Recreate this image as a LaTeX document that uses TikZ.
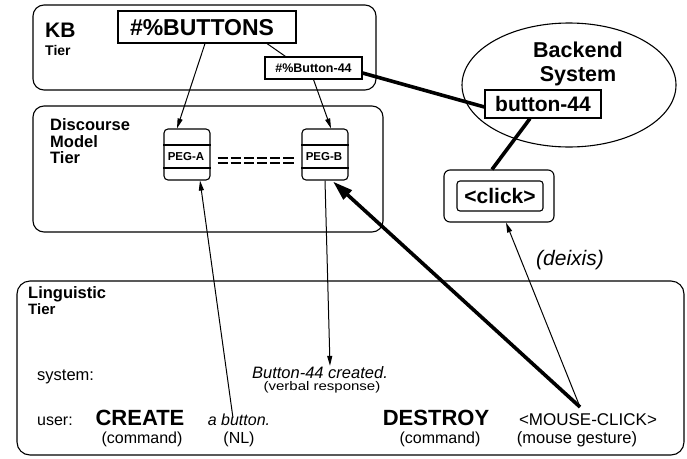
\documentclass[tikz,border=0pt]{standalone}
\usepackage{fontspec}
\setmainfont{Liberation Sans}
\usetikzlibrary{arrows.meta,calc,shapes.geometric}
\newcommand\myfs[1]{\fontsize{#1}{#1}\selectfont}
\begin{document}
\begin{tikzpicture}[x=1pt,y=-1pt,
  tier/.style={draw,line width=1.1pt,rounded corners=11pt,inner sep=0pt},
  box/.style={draw,line width=1.1pt,inner sep=0pt},
  thinarrow/.style={line width=1pt,-{Triangle[length=10pt,width=5pt]}},
  thickline/.style={line width=3.6pt},
  lbl/.style={inner sep=0pt,anchor=base west},
  ctr/.style={inner sep=0pt,anchor=base},
]
\useasboundingbox (0,0) rectangle (687,458);
% KB tier
\node[tier,minimum width=343pt,minimum height=85pt] (kb) at (204.5,47.5) {};
\node[lbl,font=\bfseries\myfs{21}] (kbl) at (45,37) {KB};
\node[lbl,font=\bfseries\myfs{14}] (kbt) at (45,55) {Tier};
\node[box,minimum width=178pt,minimum height=32pt] (buttons) at (207,27) {};
\node[ctr,font=\bfseries\myfs{23}] (buttonst) at (202,35.5) {\#\%BUTTONS};
\node[box,minimum width=97pt,minimum height=22pt,font=\bfseries\myfs{12.5}] (b44) at (313.5,68) {\#\%Button-44};
% Discourse model tier
\node[tier,minimum width=350pt,minimum height=126pt] (dm) at (208,169) {};
\node[lbl,font=\bfseries\myfs{16.5}] (dm1) at (50,130) {Discourse};
\node[lbl,font=\bfseries\myfs{16.5}] (dm2) at (50,147) {Model};
\node[lbl,font=\bfseries\myfs{16.5}] (dm3) at (50,163) {Tier};
\node[box,rounded corners=4pt,minimum width=46pt,minimum height=51pt] (pega) at (187,154.5) {};
\draw[line width=1.1pt] (pega.west |- 0,145) -- (pega.east |- 0,145);
\draw[line width=1.1pt] (pega.west |- 0,168) -- (pega.east |- 0,168);
\node[font=\bfseries\myfs{11.5},inner sep=0pt] (pegat) at (186,156.5) {PEG-A};
\node[box,rounded corners=4pt,minimum width=46pt,minimum height=51pt] (pegb) at (325,154.5) {};
\draw[line width=1.1pt] (pegb.west |- 0,145) -- (pegb.east |- 0,145);
\draw[line width=1.1pt] (pegb.west |- 0,168) -- (pegb.east |- 0,168);
\node[font=\bfseries\myfs{11.5},inner sep=0pt] (pegbt) at (324,156.5) {PEG-B};
\draw[line width=1.6pt,dash pattern=on 10.5pt off 2.6pt] ($(pega.east)+(7,3.5)$) -- ($(pegb.west)+(-7,3.5)$);
\draw[line width=1.6pt,dash pattern=on 10.5pt off 2.6pt] ($(pega.east)+(7,8.5)$) -- ($(pegb.west)+(-7,8.5)$);
% Backend
\node[draw,ellipse,line width=1.1pt,minimum width=214pt,minimum height=124pt,inner sep=0pt] (backend) at (569,85) {};
\node[ctr,font=\bfseries\myfs{21.5}] (be1) at (578,57) {Backend};
\node[ctr,font=\bfseries\myfs{21.5}] (be2) at (578,81) {System};
\node[box,minimum width=116pt,minimum height=28pt,font=\bfseries\myfs{21}] (bb) at (543,104) {button-44};
\node[box,rounded corners=6pt,minimum width=110pt,minimum height=52pt] (click) at (499,196) {};
\node[box,rounded corners=3pt,minimum width=86pt,minimum height=30pt,font=\bfseries\myfs{21}] (clickin) at (500,196) {<click>};
\node[ctr,font=\itshape\myfs{21}] (deixis) at (570,265) {(deixis)};
% Linguistic tier
\node[tier,rounded corners=13pt,minimum width=667pt,minimum height=174pt] (lt) at (350.5,368) {};
\node[lbl,font=\bfseries\myfs{16.5}] (lt1) at (28,298) {Linguistic};
\node[lbl,font=\bfseries\myfs{15}] (lt2) at (28,314) {Tier};
\node[lbl,font=\myfs{16.5}] (sys) at (37,380) {system:};
\node[lbl,font=\myfs{16}] (usr) at (37,425) {user:};
\node[ctr,font=\bfseries\myfs{22}] (create) at (140,425) {CREATE};
\node[ctr,font=\myfs{16}] (cmd1) at (142,443) {(command)};
\node[ctr,font=\itshape\myfs{16}] (abutton) at (239,425) {a button.};
\node[ctr,font=\myfs{16}] (nl) at (239,443) {(NL)};
\node[ctr,font=\itshape\myfs{16.5}] (created) at (320,378) {Button-44 created.};
\node[ctr,font=\myfs{12.5}] (verbal) at (322,390) {\scalebox{1.2}[1]{(verbal response)}};
\node[ctr,font=\bfseries\myfs{22}] (destroy) at (436,425) {DESTROY};
\node[ctr,font=\myfs{16}] (cmd2) at (440,443) {(command)};
\node[ctr,font=\myfs{17}] (mouse) at (588,425) {<MOUSE-CLICK>};
\node[ctr,font=\myfs{16.5}] (gesture) at (577,443) {(mouse gesture)};
\coordinate (mc) at (580,407);
\coordinate (ab) at (233,418);
% connectors
\draw[thinarrow] ([xshift=-2pt]buttons.south) -- ([xshift=-10pt]pega.north);
\draw[line width=1pt] ([xshift=60pt]buttons.south) -- ([xshift=-28pt]b44.north);
\draw[thinarrow] (b44.south) -- ([xshift=6pt]pegb.north);
\draw[thickline] ([yshift=-5pt]b44.east) -- ([yshift=-3pt]bb.west);
\draw[thickline] ([xshift=-13pt]bb.south) -- ([xshift=-7pt]click.north);
\draw[thinarrow] (mc) -- ([xshift=7pt]click.south);
\draw[thickline,-{Triangle[length=20pt,width=12pt]}] (mc) -- ([xshift=8pt,yshift=-1pt]pegb.south);
\draw[thinarrow] (ab) -- ([xshift=13pt]pega.south);
\draw[thinarrow] (pegb.south) -- ([xshift=10pt]created.north);
\end{tikzpicture}
\end{document}
